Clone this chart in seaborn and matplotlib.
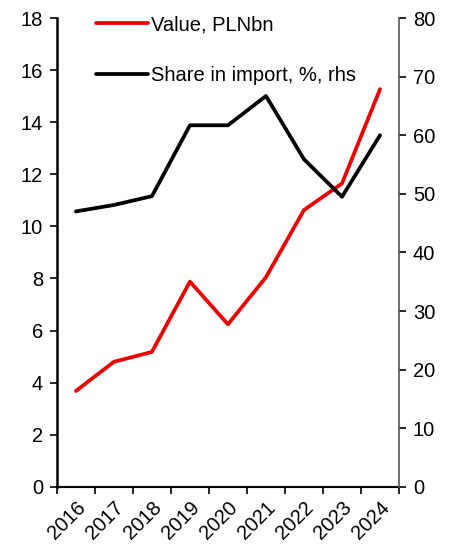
import numpy as np
import pandas as pd
import matplotlib
matplotlib.use('Agg')
import matplotlib.pyplot as plt
import seaborn as sns

years = ['2016', '2017', '2018', '2019', '2020', '2021', '2022', '2023', '2024']
value_pln_bn = [3.68, 4.8, 5.18, 7.88, 6.24, 8.05, 10.63, 11.65, 15.27]
share_import = [47.0, 48.1, 49.6, 61.7, 61.7, 66.7, 55.9, 49.5, 60.0]

sns.set_style('white')
plt.rcParams['font.family'] = ['Liberation Sans', 'DejaVu Sans']
plt.rcParams['font.size'] = 14.5
plt.rcParams['text.color'] = 'black'
plt.rcParams['xtick.color'] = 'black'
plt.rcParams['ytick.color'] = 'black'

df = pd.DataFrame({'pos': np.arange(len(years)), 'value': value_pln_bn, 'share': share_import})

fig, ax = plt.subplots(figsize=(4.55, 5.47), dpi=100)
fig.subplots_adjust(left=0.125, right=0.877, top=0.967, bottom=0.110)
ax2 = ax.twinx()

sns.lineplot(data=df, x='pos', y='value', ax=ax, color='#ee0000', linewidth=2.7,
             label='Value, PLNbn', legend=False)
sns.lineplot(data=df, x='pos', y='share', ax=ax2, color='black', linewidth=2.7,
             label='Share in import, %, rhs', legend=False)

ax.set_xlim(-0.5, len(years) - 0.5)
ax.set_ylim(0, 18)
ax.set_yticks(range(0, 19, 2))
ax2.set_ylim(0, 80)
ax2.set_yticks(range(0, 81, 10))

ax.set_xticks(np.arange(-0.5, len(years), 1))
ax.set_xticklabels([])
ax.set_xticks(np.arange(len(years)), minor=True)
ax.set_xticklabels(years, minor=True, rotation=45, ha='right', rotation_mode='anchor')
ax.tick_params(axis='x', which='minor', length=0, pad=8, labelcolor='black')
ax.tick_params(axis='x', which='major', length=5, width=1.2, color='black', direction='out', bottom=True)
ax.tick_params(axis='y', length=5, width=1.2, color='black', labelcolor='black', direction='out', left=True, pad=5)
ax2.tick_params(axis='y', length=5, width=1.2, color='black', labelcolor='black', direction='out', right=True, pad=5)

for a in (ax, ax2):
    a.set_xlabel('')
    a.set_ylabel('')
    for s in a.spines.values():
        s.set_visible(False)
ax.spines['left'].set_visible(True)
ax.spines['left'].set_linewidth(1.8)
ax.spines['left'].set_color('black')
ax.spines['bottom'].set_visible(True)
ax.spines['bottom'].set_linewidth(1.5)
ax.spines['bottom'].set_color('black')
ax2.spines['right'].set_visible(True)
ax2.spines['right'].set_linewidth(1.2)
ax2.spines['right'].set_color('#555555')

h1, l1 = ax.get_legend_handles_labels()
h2, l2 = ax2.get_legend_handles_labels()
leg = ax2.legend(h1 + h2, l1 + l2, loc='upper left', bbox_to_anchor=(0.06, 1.045), frameon=False,
                 handlelength=2.6, handletextpad=0.15, labelspacing=1.6, fontsize=14.5)
for t in leg.get_texts():
    t.set_color('black')

fig.savefig('out.png', dpi=100)
